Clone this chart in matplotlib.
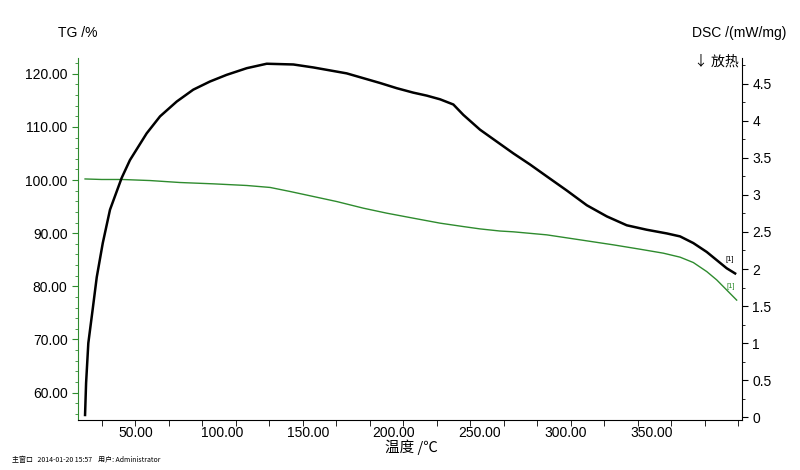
import matplotlib.pyplot as plt
from matplotlib.ticker import MultipleLocator, FixedLocator
import numpy as np

# Curva DSC (eixo direito)
temp_dsc = [20.4, 21.0, 22.3, 24.8, 27.2, 30.7, 34.9, 41.7, 46.5, 56.2, 64.0, 73.7, 83.3,
            93.0, 102.7, 114.4, 126.0, 141.5, 153.1, 172.5, 191.9, 201.6, 211.2, 219.0,
            226.8, 234.5, 240.3, 250.0, 259.7, 269.4, 279.1, 288.8, 300.4, 312.1, 323.7,
            335.3, 346.9, 358.6, 366.3, 374.0, 381.8, 387.6, 393.4, 398.3]
dsc = [0.03, 0.46, 1.00, 1.45, 1.89, 2.35, 2.80, 3.23, 3.47, 3.83, 4.06, 4.26, 4.42,
       4.53, 4.62, 4.71, 4.77, 4.76, 4.72, 4.64, 4.51, 4.44, 4.38, 4.34,
       4.29, 4.22, 4.08, 3.88, 3.72, 3.56, 3.41, 3.25, 3.06, 2.86, 2.71,
       2.59, 2.53, 2.48, 2.44, 2.35, 2.23, 2.12, 2.01, 1.94]

# Curva TG (eixo esquerdo)
temp_tg = [20.4, 30.0, 41.9, 58.2, 75.6, 95.0, 114.4, 128.0, 139.6, 153.1, 166.7, 182.2,
           195.8, 211.2, 226.8, 240.3, 250.0, 261.6, 269.4, 288.8, 308.2, 327.5, 343.0,
           356.6, 366.3, 374.0, 381.8, 387.6, 393.4, 399.2]
tg = [100.2, 100.1, 100.1, 99.9, 99.53, 99.28, 98.97, 98.6, 97.84, 96.9, 95.95, 94.7,
      93.76, 92.82, 91.88, 91.24, 90.8, 90.4, 90.25, 89.68, 88.74, 87.8, 86.98,
      86.23, 85.48, 84.47, 82.77, 81.2, 79.3, 77.4]

x_labels = [50, 100, 150, 200, 250, 300, 350]

plt.rcParams['font.family'] = ['Liberation Sans', 'DejaVu Sans']
cjk = ['Noto Sans CJK SC', 'DejaVu Sans']
verde = '#2e8b2e'

fig = plt.figure(figsize=(8, 4.7), dpi=100)
ax = fig.add_axes([0.0975, 0.106, 0.83, 0.771])
ax2 = ax.twinx()

ax.plot(temp_tg, tg, color=verde, lw=1.0)
ax2.plot(temp_dsc, dsc, color='black', lw=1.8, solid_joinstyle='round')

ax.set_xlim(16.3, 402.3)
ax.set_ylim(54.8, 123.0)
ax2.set_ylim(-0.04, 4.85)

# eixo x
ax.xaxis.set_major_locator(FixedLocator(x_labels))
ax.set_xticklabels([f"{v:.2f}" for v in x_labels])
ax.xaxis.set_minor_locator(FixedLocator(np.linspace(30, 400, 20)))
ax.tick_params(axis='x', which='major', length=0, pad=4, labelsize=10)
ax.tick_params(axis='x', which='minor', length=4, direction='out', color='black')

# eixo esquerdo (TG)
ax.yaxis.set_major_locator(MultipleLocator(10))
ax.yaxis.set_minor_locator(MultipleLocator(2))
ax.yaxis.set_major_formatter(lambda v, p: f"{v:.2f}")
ax.tick_params(axis='y', which='major', length=4, color=verde, labelsize=10)
ax.tick_params(axis='y', which='minor', length=2.5, color=verde)

# eixo direito (DSC)
ax2.yaxis.set_major_locator(MultipleLocator(0.5))
ax2.yaxis.set_minor_locator(MultipleLocator(0.25))
ax2.yaxis.set_major_formatter(lambda v, p: f"{v:g}")
ax2.tick_params(axis='y', which='major', length=4, color='black', labelsize=10)
ax2.tick_params(axis='y', which='minor', length=2.5, color='black')

for a in (ax, ax2):
    a.spines['top'].set_visible(False)
ax.spines['right'].set_visible(False)
ax2.spines['left'].set_visible(False)
ax2.spines['bottom'].set_visible(False)
ax.spines['left'].set_color(verde)
ax.spines['bottom'].set_color('black')
ax2.spines['right'].set_color('black')

# rótulos
fig.text(58 / 800, 1 - 33 / 470, "TG /%", fontsize=10, va='center', ha='left')
fig.text(692 / 800, 1 - 33 / 470, "DSC /(mW/mg)", fontsize=10, va='center', ha='left')
fig.text(739 / 800, 1 - 62 / 470, "↓ 放热", fontsize=10, va='center', ha='right', family=cjk)
fig.text(411 / 800, 1 - 447 / 470, "温度 /℃", fontsize=10.5, va='center', ha='center', family=cjk)
fig.text(12 / 800, 1 - 460 / 470, "主窗口   2014-01-20 15:57    用户: Administrator",
         fontsize=5, va='center', ha='left', family=cjk)

# marcadores [1]
ax2.annotate("[1]", xy=(temp_dsc[-1], dsc[-1]), xytext=(-4, 10), textcoords='offset points',
             fontsize=5.5, ha='center', va='center')
ax.annotate("[1]", xy=(temp_tg[-1], tg[-1]), xytext=(-4, 10), textcoords='offset points',
            fontsize=5.5, ha='center', va='center', color=verde)

fig.savefig("out.png", dpi=100)
